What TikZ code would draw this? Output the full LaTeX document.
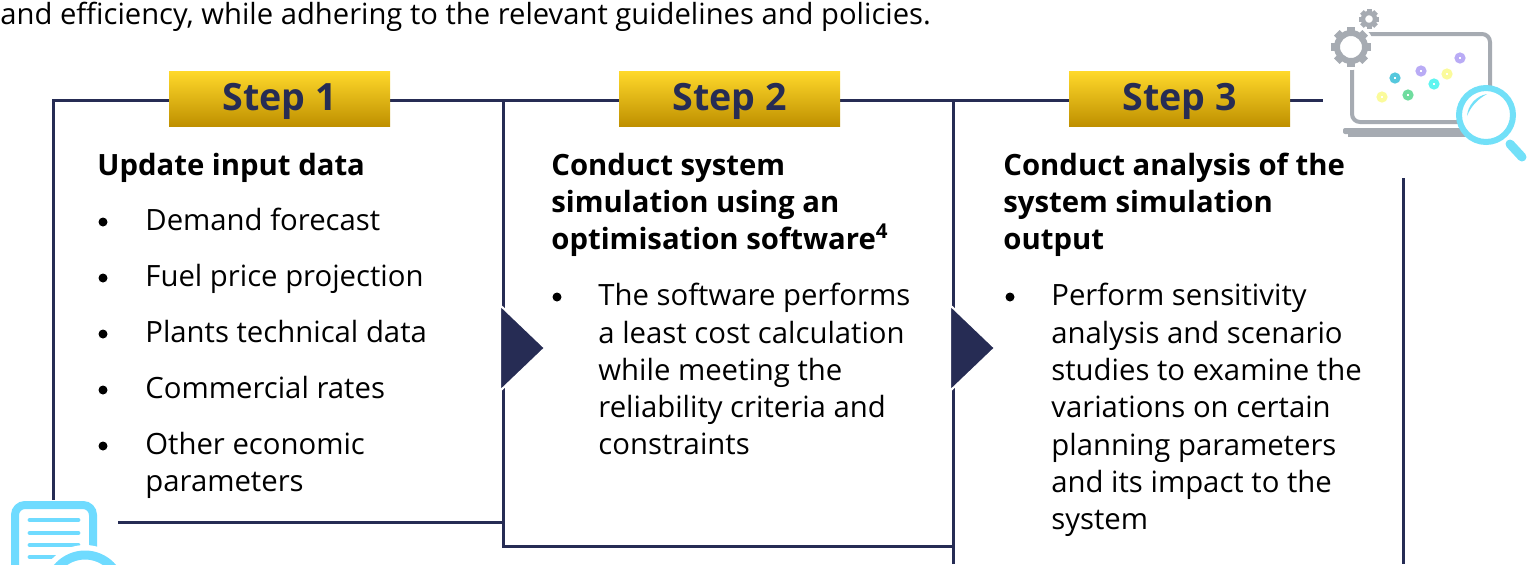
\documentclass[tikz,border=0pt]{standalone}
\usepackage{fontspec}
\setmainfont{Open Sans}
\definecolor{framenavy}{HTML}{262C54}
\definecolor{stepgold}{HTML}{FFD92B}
\definecolor{stepdark}{HTML}{BF9000}
\definecolor{icongray}{HTML}{A6ABB2}
\definecolor{iconcyan}{HTML}{72E0F8}
\definecolor{docblue}{HTML}{6FDBFF}
\definecolor{dotyellow}{HTML}{FBFB9B}
\definecolor{dotteal}{HTML}{55C8DD}
\definecolor{dotgreen}{HTML}{6FDC9E}
\definecolor{dotpurple}{HTML}{B9ABF5}
\definecolor{dotcyan}{HTML}{5FF5F0}
\tikzset{
  frameline/.style={draw=framenavy,line width=1.5pt},
  stepbox/.style={minimum width=110.5pt,minimum height=27.5pt,inner sep=0pt,text height=13.4pt,text depth=1.6pt,top color=stepgold,bottom color=stepdark,text=framenavy,font=\fontsize{18.8}{23}\selectfont\bfseries},
  headtext/.style={anchor=base west,inner sep=0pt,align=left,font=\fontsize{14.65}{18.5}\selectfont\bfseries},
  itemtext/.style={anchor=base west,inner sep=0pt,align=left,font=\fontsize{14.65}{18.5}\selectfont},
  nexttip/.style={fill=framenavy,draw=white,line width=1pt},
  dotring/.style={draw=#1,line width=2pt,fill=white}
}
\begin{document}
\begin{tikzpicture}[x=0.5pt,y=-0.5pt]
  \useasboundingbox (0,0) rectangle (1528,564);
  % top line
  \node[itemtext,font=\fontsize{14.6}{18.5}\selectfont] (intro) at (0,24) {and efficiency, while adhering to the relevant guidelines and policies.};
  % frames
  \draw[frameline] (53,500) -- (53,100) -- (503,100);
  \draw[frameline] (118,522) -- (503,522);
  \draw[frameline] (503,100) -- (953,100);
  \draw[frameline] (503,100) -- (503,546) -- (953,546);
  \draw[frameline] (953,564) -- (953,100) -- (1323,100);
  \draw[frameline] (1403,178) -- (1403,564);
  \filldraw[nexttip] (500,305) -- (545,348) -- (500,391) -- cycle;
  \filldraw[nexttip] (950,305) -- (995,348) -- (950,391) -- cycle;
  % step labels
  \node[stepbox] (step1) at (279.5,98.5) {Step 1};
  \node[stepbox] (step2) at (729.5,98.5) {Step 2};
  \node[stepbox] (step3) at (1179.5,98.5) {Step 3};
  % first column
  \node[headtext] (head1) at (97,175) {Update input data};
  \node[itemtext] (item1a) at (145,230) {Demand forecast};
  \node[itemtext] (item1b) at (145,286) {Fuel price projection};
  \node[itemtext] (item1c) at (145,342) {Plants technical data};
  \node[itemtext] (item1d) at (145,398) {Commercial rates};
  \node[itemtext] (item1e) at (145,454) {Other economic};
  \node[itemtext] (item1f) at (145,491) {parameters};
  \foreach \y in {222,278,334,390,446}
    \fill (103,\y) circle[radius=4.5];
  % second column
  \node[headtext] (head2a) at (551,175) {Conduct system};
  \node[headtext] (head2b) at (551,212) {simulation using an};
  \node[headtext] (head2c) at (551,249) {optimisation software\textsuperscript{4}};
  \node[itemtext] (item2a) at (598,305) {The software performs};
  \node[itemtext] (item2b) at (598,343) {a least cost calculation};
  \node[itemtext] (item2c) at (598,380) {while meeting the};
  \node[itemtext] (item2d) at (598,417) {reliability criteria and};
  \node[itemtext] (item2e) at (598,454) {constraints};
  \fill (557,297) circle[radius=4.5];
  % third column
  \node[headtext] (head3a) at (1003,175) {Conduct analysis of the};
  \node[headtext] (head3b) at (1003,212) {system simulation};
  \node[headtext] (head3c) at (1003,249) {output};
  \node[itemtext] (item3a) at (1051,305) {Perform sensitivity};
  \node[itemtext] (item3b) at (1051,343) {analysis and scenario};
  \node[itemtext] (item3c) at (1051,380) {studies to examine the};
  \node[itemtext] (item3d) at (1051,417) {variations on certain};
  \node[itemtext] (item3e) at (1051,455) {planning parameters};
  \node[itemtext] (item3f) at (1051,492) {and its impact to the};
  \node[itemtext] (item3g) at (1051,529) {system};
  \fill (1010,297) circle[radius=4.5];
  % laptop icon
  \draw[icongray,line width=2pt,rounded corners=4pt] (1352,34) -- (1490,34) -- (1490,122) -- (1352,122) -- cycle;
  \fill[icongray,rounded corners=1pt] (1343,128) rectangle (1470,134);
  \fill[icongray] (1348,132) rectangle (1470,137);
  \fill[white] (1351,47) circle[radius=23];
  \foreach \a in {0,45,...,315}
    \fill[icongray,rotate around={\a:(1351,47)}] (1347,27) rectangle (1355,34);
  \draw[icongray,line width=3pt] (1351,47) circle[radius=14];
  \fill[white] (1369,19) circle[radius=11];
  \foreach \a in {0,45,...,315}
    \fill[icongray,rotate around={\a:(1369,19)}] (1366.5,9) rectangle (1371.5,14);
  \draw[icongray,line width=2.2pt] (1369,19) circle[radius=6];
  \draw[dotring=dotyellow] (1382,97) circle[radius=3.5];
  \draw[dotring=dotteal] (1395,78) circle[radius=3.5];
  \draw[dotring=dotgreen] (1408,95) circle[radius=3.5];
  \draw[dotring=dotpurple] (1421,71) circle[radius=3.5];
  \draw[dotring=dotcyan] (1434,84) circle[radius=3.5];
  \draw[dotring=dotyellow] (1447,74) circle[radius=3.5];
  \draw[dotring=dotpurple] (1460,58) circle[radius=3.5];
  \draw[iconcyan,line width=4.5pt,line cap=round] (1510,144) -- (1522,157);
  \draw[iconcyan,line width=3pt,fill=white] (1486,115) circle[radius=27];
  \fill[iconcyan] (1467,116) .. controls (1468,105) and (1476,96) .. (1487,94) .. controls (1478,99) and (1471,106) .. cycle;
  % document icon
  \draw[docblue,line width=4pt,fill=white,rounded corners=5pt] (15,505) rectangle (93,620);
  \foreach \y in {520,533}
    \draw[docblue,line width=2.4pt,line cap=round] (30,\y) -- (78,\y);
  \draw[docblue,line width=2.4pt,line cap=round] (30,545) -- (78,545);
  \draw[docblue,line width=2.4pt,line cap=round] (30,557) -- (60,557);
  \fill[white] (85,591) circle[radius=46];
  \draw[docblue,line width=4.5pt,fill=white] (85,591) circle[radius=36];
\end{tikzpicture}
\end{document}
